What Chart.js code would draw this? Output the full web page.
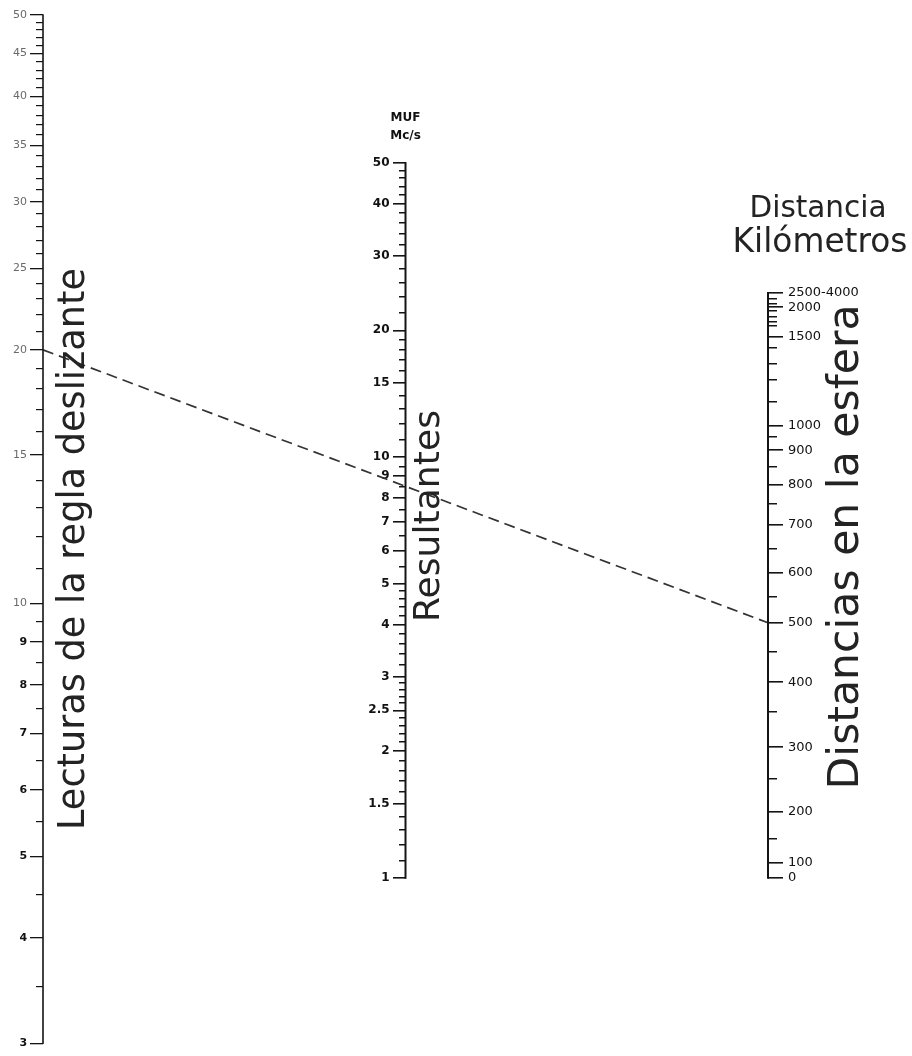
<!DOCTYPE html>
<html>
<head>
<meta charset="utf-8">
<script src="https://cdn.jsdelivr.net/npm/chart.js@4.4.1/dist/chart.umd.min.js"></script>
<style>
html,body{margin:0;padding:0;background:#fff;}
canvas{display:block;}
</style>
</head>
<body>
<canvas id="c" width="912" height="1056"></canvas>
<script>
// ---------- DATA ----------
// Left scale: "Lecturas de la regla deslizante"
const readingTicks = [3, 4, 5, 6, 7, 8, 9, 10, 15, 20, 25, 30, 35, 40, 45, 50];
const readingMinorTicks = [3.5, 4.5, 5.5, 6.5, 7.5, 8.5, 9.5, 11, 12, 13, 14, 16, 17, 18, 19,
  21, 22, 23, 24, 26, 27, 28, 29, 31, 32, 33, 34, 36, 37, 38, 39, 41, 42, 43, 44, 46, 47, 48, 49];

// Middle scale: "Resultantes" MUF, Mc/s
const mufTicks = [1, 1.5, 2, 2.5, 3, 4, 5, 6, 7, 8, 9, 10, 15, 20, 30, 40, 50];
const mufMinorTicks = [1.1, 1.2, 1.3, 1.4, 1.6, 1.7, 1.8, 1.9, 2.1, 2.2, 2.3, 2.4, 2.6, 2.7, 2.8, 2.9,
  3.2, 3.4, 3.6, 3.8, 4.2, 4.4, 4.6, 4.8, 5.5, 6.5, 7.5, 8.5, 9.5, 11, 12, 13, 14, 16, 17, 18, 19,
  22, 24, 26, 28, 32, 34, 36, 38, 42, 44, 46, 48];

// Right scale: "Distancias en la esfera" (km) and the factor (MUF / reading) each mark sits at
const distanceLabels = ['0', '100', '200', '300', '400', '500', '600', '700', '800', '900', '1000', '1500', '2000', '2500-4000'];
const distanceFactor = [0.212, 0.221, 0.254, 0.303, 0.362, 0.426, 0.488, 0.557, 0.621, 0.683, 0.731, 0.931, 1.010, 1.050];
// unlabelled marks: 150,250,350,450,550,650,750,850,950,1100,1200,1300,1400,1600,1700,1800,1900 km and two above 2000
const distanceMinorFactor = [0.236, 0.278, 0.334, 0.393, 0.457, 0.522, 0.590, 0.652, 0.708,
  0.780, 0.829, 0.865, 0.904, 0.959, 0.972, 0.985, 0.999, 1.021, 1.033];

// Worked example (dashed line)
const exampleReading = 20;
const exampleDistance = '500';

// ---------- SCALE CALIBRATION ----------
const READING_MIN = 3, READING_MAX = 50;
const FACTOR_PER_READING = 0.04494;           // right-scale factor level equal in height to a reading
const FACTOR_MIN = READING_MIN * FACTOR_PER_READING;
const FACTOR_MAX = READING_MAX * FACTOR_PER_READING;
const MUF_MIN = READING_MIN * FACTOR_MIN;     // MUF = reading x factor
const MUF_MAX = READING_MAX * FACTOR_MAX;

// ---------- LAYOUT ----------
const X_LEFT = 0, X_MID = 0.5, X_RIGHT = 1;
const LABEL_GAP = 0.022;                       // label offset from its axis, in x units
const RIGHT_BOX = 144;
const INK = '#141414';

function fixedTicks(values) {
  return scale => { scale.ticks = values.map(v => ({ value: v })); };
}

function logAxis(extra) {
  return Object.assign({
    type: 'logarithmic',
    bounds: 'data',
    border: { display: false },
  }, extra);
}

function tickAxis(x, min, max, values, len, width) {
  return logAxis({
    position: { x }, min, max,
    afterBuildTicks: fixedTicks(values),
    grid: { drawOnChartArea: false, tickLength: len, color: INK, lineWidth: width },
    ticks: { display: false, autoSkip: false }
  });
}

function labelAxis(x, min, max, values, ticks) {
  return logAxis({
    position: { x }, min, max,
    afterBuildTicks: fixedTicks(values),
    grid: { display: false },
    ticks: Object.assign({ autoSkip: false, padding: 0, callback: v => String(v) }, ticks)
  });
}

const scales = {
  x: { type: 'linear', min: X_LEFT, max: X_RIGHT, display: false },

  yL: tickAxis(X_LEFT, READING_MIN, READING_MAX, readingTicks, 13, 1.3),
  yLm: tickAxis(X_LEFT, READING_MIN, READING_MAX, readingMinorTicks, 7, 1.2),
  yLlab: labelAxis(X_LEFT - LABEL_GAP, READING_MIN, READING_MAX, readingTicks, {
    color: c => (c.tick && c.tick.value < 10) ? '#111' : '#6a6a6a',
    font: c => ({ family: 'DejaVu Sans', size: 11, weight: (c.tick && c.tick.value < 10) ? 'bold' : 'normal' })
  }),

  yM: tickAxis(X_MID, MUF_MIN, MUF_MAX, mufTicks, 13, 1.6),
  yMm: tickAxis(X_MID, MUF_MIN, MUF_MAX, mufMinorTicks, 7, 1.5),
  yMlab: labelAxis(X_MID - LABEL_GAP, MUF_MIN, MUF_MAX, mufTicks, {
    color: '#111',
    font: { family: 'DejaVu Sans', size: 12, weight: 'bold' }
  }),

  yR: logAxis({
    position: 'right', min: FACTOR_MIN, max: FACTOR_MAX,
    afterBuildTicks: fixedTicks(distanceFactor),
    afterFit: s => { s.width = RIGHT_BOX; },
    grid: { drawOnChartArea: false, tickLength: 15, color: INK, lineWidth: 1.6 },
    ticks: {
      autoSkip: false, padding: 5, color: '#111',
      callback: v => distanceLabels[distanceFactor.indexOf(v)],
      font: { family: 'DejaVu Sans', size: 13 }
    }
  }),
  yRm: tickAxis(X_RIGHT, FACTOR_MIN, FACTOR_MAX, distanceMinorFactor, -9, 1.5)
};

function axisLine(yAxisID, x, lo, hi, width) {
  return {
    yAxisID, xAxisID: 'x',
    data: [{ x, y: lo }, { x, y: hi }],
    borderColor: INK, borderWidth: width, pointRadius: 0, tension: 0, clip: false,
    borderCapStyle: 'square'
  };
}

const exampleFactor = distanceFactor[distanceLabels.indexOf(exampleDistance)];

const datasets = [
  axisLine('yL', X_LEFT, readingTicks[0], readingTicks[readingTicks.length - 1], 1.6),
  axisLine('yM', X_MID, mufTicks[0], mufTicks[mufTicks.length - 1], 2),
  axisLine('yR', X_RIGHT, distanceFactor[0], distanceFactor[distanceFactor.length - 1], 2),
  {
    yAxisID: 'yL', xAxisID: 'x',
    data: [{ x: X_LEFT, y: exampleReading }, { x: X_RIGHT, y: exampleFactor / FACTOR_PER_READING }],
    borderColor: '#333', borderWidth: 1.7, borderDash: [11, 6],
    pointRadius: 0, tension: 0, clip: false
  }
];

// ---------- TITLES ----------
const TITLE_FAMILY = '"DejaVu Sans", "Noto Sans", sans-serif';
function fitFont(ctx, text, target, weight) {
  ctx.font = weight + ' 30px ' + TITLE_FAMILY;
  const w = ctx.measureText(text).width;
  const size = 30 * target / w;
  ctx.font = weight + ' ' + size.toFixed(2) + 'px ' + TITLE_FAMILY;
}
function vText(ctx, text, x, y, len) {
  ctx.save();
  fitFont(ctx, text, len, 'normal');
  ctx.translate(x, y);
  ctx.rotate(-Math.PI / 2);
  ctx.textAlign = 'center';
  ctx.textBaseline = 'alphabetic';
  ctx.fillText(text, 0, 0);
  ctx.restore();
}
const titlePlugin = {
  id: 'nomoTitles',
  afterDraw(chart) {
    const ctx = chart.ctx;
    const xs = chart.scales.x;
    const xL = xs.getPixelForValue(X_LEFT), xM = xs.getPixelForValue(X_MID), xR = xs.getPixelForValue(X_RIGHT);
    ctx.save();
    ctx.fillStyle = '#232323';
    vText(ctx, 'Lecturas de la regla deslizante', xL + 41, 549, 562);
    vText(ctx, 'Resultantes', xM + 33, 516, 212);
    vText(ctx, 'Distancias en la esfera', xR + 90, 547, 485);
    ctx.textAlign = 'center';
    ctx.textBaseline = 'alphabetic';
    fitFont(ctx, 'Distancia', 137, 'normal');
    ctx.fillText('Distancia', xR + 50, 217);
    fitFont(ctx, 'Kilómetros', 175, 'normal');
    ctx.fillText('Kilómetros', xR + 52, 252);
    ctx.font = 'bold 12px "DejaVu Sans"';
    ctx.fillStyle = '#111';
    ctx.fillText('MUF', xM, 121);
    ctx.fillText('Mc/s', xM, 139);
    ctx.restore();
  }
};

new Chart(document.getElementById('c'), {
  type: 'line',
  data: { datasets },
  options: {
    responsive: false,
    animation: false,
    devicePixelRatio: 1,
    events: [],
    layout: { padding: { left: 43, top: 15, right: 0, bottom: 6 } },
    plugins: { legend: { display: false }, tooltip: { enabled: false }, title: { display: false } },
    scales
  },
  plugins: [titlePlugin]
});
</script>
</body>
</html>
